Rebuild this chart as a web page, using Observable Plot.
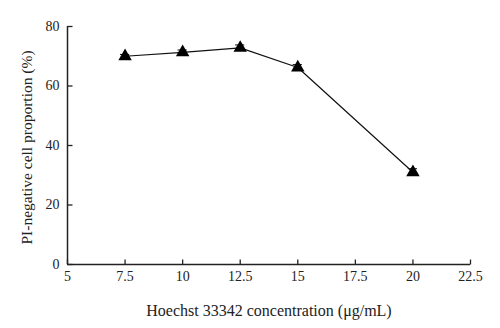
<!DOCTYPE html>
<html><head><meta charset="utf-8">
<script src="https://cdn.jsdelivr.net/npm/d3@7"></script>
<script src="https://cdn.jsdelivr.net/npm/@observablehq/plot@0.6"></script>
<style>body{margin:0;background:#fff}</style>
</head><body><div id="chart"></div>
<script>
const concentration = [7.5, 10, 12.5, 15, 20];
const proportion = [70.0, 71.3, 72.8, 66.2, 31.0];
const error = [0.6, 0.8, 1.0, 1.0, 1.2];
const xTicks = [5, 7.5, 10, 12.5, 15, 17.5, 20, 22.5];
const yTicks = [0, 20, 40, 60, 80];
const xLabel = "Hoechst 33342 concentration (μg/mL)";
const yLabel = "PI-negative cell proportion (%)";

const data = concentration.map((c, i) => ({c, p: proportion[i], e: error[i]}));
const font = "'Liberation Serif', 'Times New Roman', serif";
const upTick = {draw(ctx) { ctx.moveTo(0, 0); ctx.lineTo(0, -5); }};
const rightTick = {draw(ctx) { ctx.moveTo(0, 0); ctx.lineTo(5, 0); }};

const chart = Plot.plot({
  width: 500, height: 328,
  marginLeft: 67, marginRight: 30, marginTop: 26, marginBottom: 64,
  style: {fontFamily: font, fontSize: "14px", color: "#222", background: "#fff"},
  x: {type: "linear", domain: [5, 22.5]},
  y: {type: "linear", domain: [0, 80]},
  marks: [
    Plot.ruleY([0], {stroke: "#222", strokeWidth: 1.5}),
    Plot.ruleX([5], {stroke: "#222", strokeWidth: 1.5}),
    Plot.dot(xTicks, {x: d => d, y: 0, symbol: upTick, fill: "none", stroke: "#222", strokeWidth: 1.3}),
    Plot.dot(yTicks, {x: 5, y: d => d, symbol: rightTick, fill: "none", stroke: "#222", strokeWidth: 1.3}),
    Plot.axisX({ticks: xTicks, tickSize: 0, tickPadding: 7, tickFormat: d => String(d), fill: "#222", fontSize: 14, label: null}),
    Plot.axisY({ticks: yTicks, tickSize: 0, tickPadding: 8, fill: "#222", fontSize: 14, label: null}),
    Plot.text([xLabel], {frameAnchor: "bottom", dy: 51, fontSize: 16, fill: "#222", fontFamily: font}),
    Plot.text([yLabel], {frameAnchor: "left", dx: -40, dy: 2, rotate: -90, textAnchor: "middle", fontSize: 15.5, fill: "#222", fontFamily: font}),
    Plot.line(data, {x: "c", y: "p", stroke: "#111", strokeWidth: 1.2}),
    Plot.ruleX(data, {x: "c", y1: d => d.p - d.e, y2: d => d.p + d.e, stroke: "#111"}),
    Plot.ruleY(data, {y: d => d.p + d.e, x1: d => d.c - 0.2, x2: d => d.c + 0.2, stroke: "#111"}),
    Plot.dot(data, {x: "c", y: "p", symbol: "triangle", r: 5, fill: "#000", stroke: "none"})
  ]
});
document.getElementById("chart").appendChild(chart);
</script>
</body></html>
